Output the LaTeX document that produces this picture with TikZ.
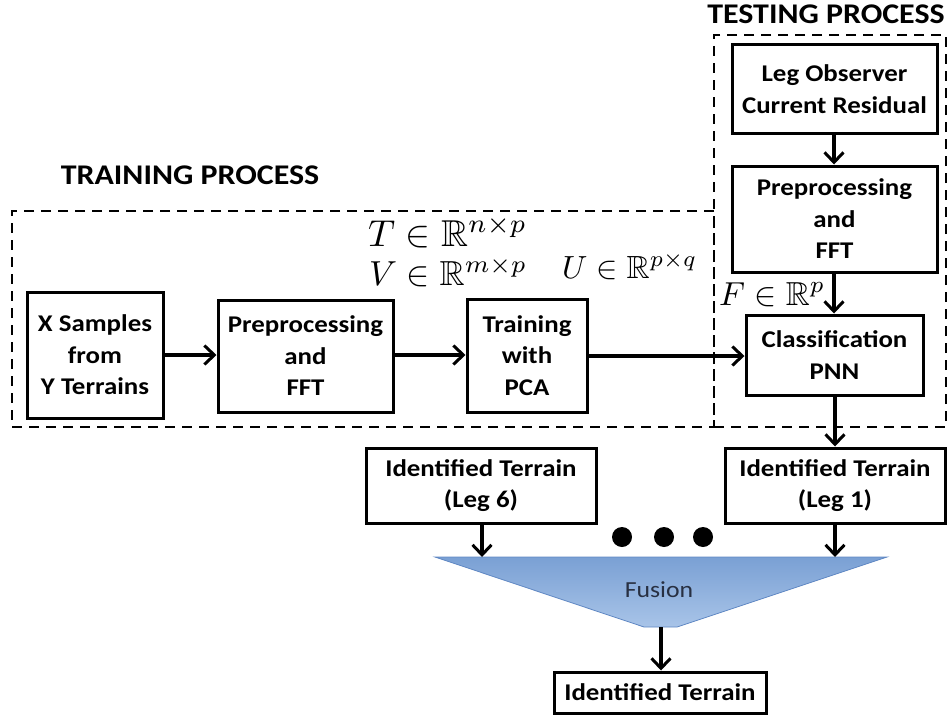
\documentclass[tikz,border=0pt]{standalone}
\usepackage{amssymb}
\usepackage{graphicx}
\usepackage{fontspec}
\setmainfont{Carlito}[FakeStretch=1.12]
\usetikzlibrary{arrows.meta}
\definecolor{funneltop}{RGB}{122,160,212}
\definecolor{funnelbot}{RGB}{168,196,232}
\definecolor{funneledge}{RGB}{95,135,195}
\definecolor{fusiontext}{RGB}{40,48,66}
% math set at 10pt, then scaled to a given width
\newcommand{\sizedmath}[2]{\resizebox{#1}{!}{\fontsize{10}{12}\selectfont$#2$}}
\tikzset{
  blk/.style={draw, line width=3pt, align=center, inner sep=0pt,
    font=\fontsize{24}{31.5}\selectfont\bfseries},
  grp/.style={draw, line width=2.5pt, dash pattern=on 10pt off 7pt, inner sep=0pt},
  flow/.style={line width=3.2pt, -{Straight Barb[length=10pt,width=19pt,line width=3pt]}},
  heading/.style={font=\fontsize{28.5}{30}\selectfont\bfseries, inner sep=0pt},
  mlab/.style={inner sep=0pt, anchor=base west},
  dot/.style={circle, fill=black, minimum size=20pt, inner sep=0pt}
}
\begin{document}
\begin{tikzpicture}[x=1pt,y=-1pt]
\useasboundingbox (0,0) rectangle (950,717);

% group frames
\node[grp, minimum width=702pt, minimum height=216pt] (train) at (363,319) {};
\node[grp, minimum width=232pt, minimum height=392pt] (test) at (830,231) {};
\node[heading] (trainlbl) at (190,175) {TRAINING PROCESS};
\node[heading] (testlbl) at (826,14) {TESTING PROCESS};

% training chain
\node[blk, minimum width=136pt, minimum height=126pt] (xs) at (95,355) {X Samples\\from\\Y Terrains};
\node[blk, minimum width=175pt, minimum height=112pt] (pre1) at (305.5,356) {Preprocessing\\and\\FFT};
\node[blk, minimum width=120pt, minimum height=113pt] (pca) at (527,355.5) {Training\\with\\PCA};

% testing chain
\node[blk, minimum width=205pt, minimum height=88pt] (leg) at (834.5,89) {Leg Observer\\Current Residual};
\node[blk, minimum width=205pt, minimum height=106pt] (pre2) at (834.5,219) {Preprocessing\\and\\FFT};
\node[blk, minimum width=177pt, minimum height=80pt] (cls) at (834.5,355) {Classification\\PNN};

% per-leg results
\node[blk, minimum width=230pt, minimum height=75pt] (id6) at (481,485.5) {Identified Terrain\\(Leg 6)};
\node[blk, minimum width=220pt, minimum height=75pt] (id1) at (835,485.5) {Identified Terrain\\(Leg 1)};
\node[dot] (d1) at (622,537) {};
\node[dot] (d2) at (664,537) {};
\node[dot] (d3) at (703,537) {};

% fusion funnel
\coordinate (ftl) at (435,557);
\coordinate (ftr) at (887,557);
\coordinate (fbr) at (677,627);
\coordinate (fbl) at (644,627);
\shade[top color=funneltop, bottom color=funnelbot] (ftl) -- (ftr) -- (fbr) -- (fbl) -- cycle;
\draw[funneledge, line width=0.8pt] (ftl) -- (ftr) -- (fbr) -- (fbl) -- cycle;
\node[font=\fontsize{23}{26}\selectfont, text=fusiontext, inner sep=0pt] (fus) at (659,590) {Fusion};
\coordinate (fin6) at (482,557);
\coordinate (fin1) at (835,557);
\coordinate (fout) at (661,627);
\node[blk, minimum width=212pt, minimum height=41pt] (idf) at (660,692.5) {Identified Terrain};

% dimension labels
\node[mlab] (tlab) at (368,246) {\sizedmath{159pt}{T\in\mathbb{R}^{n\times p}}};
\node[mlab] (vlab) at (369,285) {\sizedmath{158pt}{V\in\mathbb{R}^{m\times p}}};
\node[mlab] (ulab) at (562,278) {\sizedmath{135pt}{U\in\mathbb{R}^{p\times q}}};
\node[mlab] (flab) at (719,305) {\sizedmath{106pt}{F\in\mathbb{R}^{p}}};

% connectors
\draw[flow] (xs.east |- 0,355) -- (pre1.west |- 0,355);
\draw[flow] (pre1.east |- 0,355) -- (pca.west |- 0,355);
\draw[flow] (pca.east |- 0,356) -- (cls.west |- 0,356);
\draw[flow] (leg.south -| 834,0) -- (pre2.north -| 834,0);
\draw[flow] (pre2.south -| 834,0) -- (cls.north -| 834,0);
\draw[flow] (cls.south -| 835,0) -- (id1.north);
\draw[flow] (id6.south -| fin6) -- (fin6);
\draw[flow] (id1.south) -- (fin1);
\draw[flow] (fout) -- (idf.north -| fout);
\end{tikzpicture}
\end{document}
